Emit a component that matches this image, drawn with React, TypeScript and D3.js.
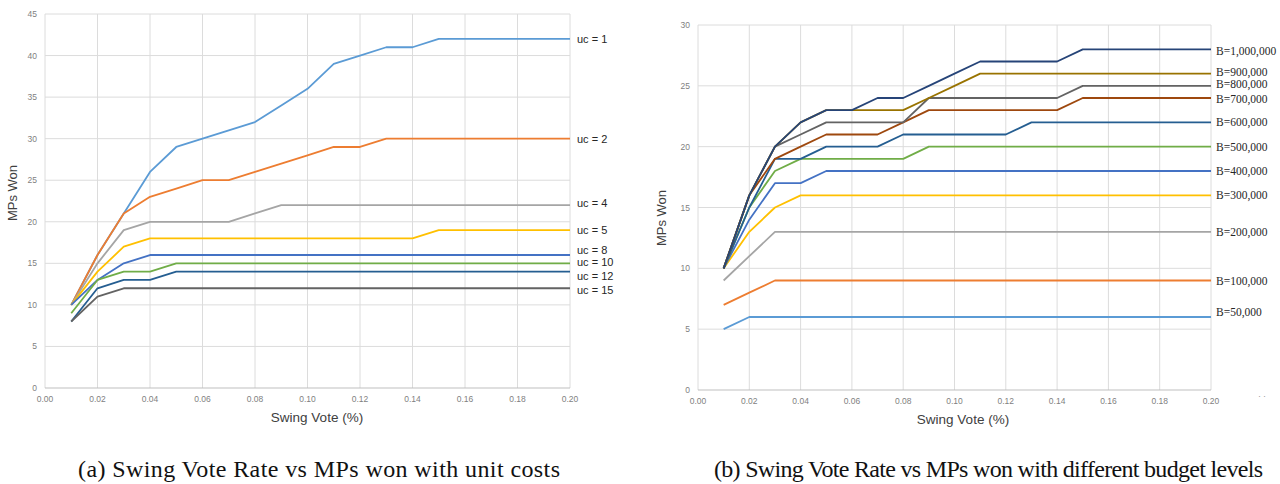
import React, { useRef, useEffect } from "react";
import * as d3 from "d3";

// swing vote rate on the x axis (shared by both panels)
const swingVotes = [0.01, 0.02, 0.03, 0.04, 0.05, 0.06, 0.07, 0.08, 0.09, 0.10,
  0.11, 0.12, 0.13, 0.14, 0.15, 0.16, 0.17, 0.18, 0.19, 0.20];
const xTicks = [0, 0.02, 0.04, 0.06, 0.08, 0.10, 0.12, 0.14, 0.16, 0.18, 0.20];

// (a) unit costs
const ucLabels = ["uc = 1", "uc = 2", "uc = 4", "uc = 5", "uc = 8", "uc = 10", "uc = 12", "uc = 15"];
const ucColors = ["#5B9BD5", "#ED7D31", "#A5A5A5", "#FFC000", "#4472C4", "#70AD47", "#255E91", "#636363"];
const uc1 = [10, 16, 21, 26, 29, 30, 31, 32, 34, 36, 39, 40, 41, 41, 42, 42, 42, 42, 42, 42];
const uc2 = [10, 16, 21, 23, 24, 25, 25, 26, 27, 28, 29, 29, 30, 30, 30, 30, 30, 30, 30, 30];
const uc4 = [10, 15, 19, 20, 20, 20, 20, 21, 22, 22, 22, 22, 22, 22, 22, 22, 22, 22, 22, 22];
const uc5 = [10, 14, 17, 18, 18, 18, 18, 18, 18, 18, 18, 18, 18, 18, 19, 19, 19, 19, 19, 19];
const uc8 = [10, 13, 15, 16, 16, 16, 16, 16, 16, 16, 16, 16, 16, 16, 16, 16, 16, 16, 16, 16];
const uc10 = [9, 13, 14, 14, 15, 15, 15, 15, 15, 15, 15, 15, 15, 15, 15, 15, 15, 15, 15, 15];
const uc12 = [8, 12, 13, 13, 14, 14, 14, 14, 14, 14, 14, 14, 14, 14, 14, 14, 14, 14, 14, 14];
const uc15 = [8, 11, 12, 12, 12, 12, 12, 12, 12, 12, 12, 12, 12, 12, 12, 12, 12, 12, 12, 12];
const ucSeries = [uc1, uc2, uc4, uc5, uc8, uc10, uc12, uc15];
const ucLabelNudge = [0, 0, -2, 0, -5, -1, 4, 2];
const ucYTicks = [0, 5, 10, 15, 20, 25, 30, 35, 40, 45];

// (b) budget levels
const budgetLabels = ["B=50,000", "B=100,000", "B=200,000", "B=300,000", "B=400,000", "B=500,000",
  "B=600,000", "B=700,000", "B=800,000", "B=900,000", "B=1,000,000"];
const budgetColors = ["#5B9BD5", "#ED7D31", "#A5A5A5", "#FFC000", "#4472C4", "#70AD47",
  "#255E91", "#9E480E", "#636363", "#997300", "#264478"];
const b50k = [5, 6, 6, 6, 6, 6, 6, 6, 6, 6, 6, 6, 6, 6, 6, 6, 6, 6, 6, 6];
const b100k = [7, 8, 9, 9, 9, 9, 9, 9, 9, 9, 9, 9, 9, 9, 9, 9, 9, 9, 9, 9];
const b200k = [9, 11, 13, 13, 13, 13, 13, 13, 13, 13, 13, 13, 13, 13, 13, 13, 13, 13, 13, 13];
const b300k = [10, 13, 15, 16, 16, 16, 16, 16, 16, 16, 16, 16, 16, 16, 16, 16, 16, 16, 16, 16];
const b400k = [10, 14, 17, 17, 18, 18, 18, 18, 18, 18, 18, 18, 18, 18, 18, 18, 18, 18, 18, 18];
const b500k = [10, 15, 18, 19, 19, 19, 19, 19, 20, 20, 20, 20, 20, 20, 20, 20, 20, 20, 20, 20];
const b600k = [10, 15, 19, 19, 20, 20, 20, 21, 21, 21, 21, 21, 22, 22, 22, 22, 22, 22, 22, 22];
const b700k = [10, 16, 19, 20, 21, 21, 21, 22, 23, 23, 23, 23, 23, 23, 24, 24, 24, 24, 24, 24];
const b800k = [10, 16, 20, 21, 22, 22, 22, 22, 24, 24, 24, 24, 24, 24, 25, 25, 25, 25, 25, 25];
const b900k = [10, 16, 20, 22, 23, 23, 23, 23, 24, 25, 26, 26, 26, 26, 26, 26, 26, 26, 26, 26];
const b1m = [10, 16, 20, 22, 23, 23, 24, 24, 25, 26, 27, 27, 27, 27, 28, 28, 28, 28, 28, 28];
const budgetSeries = [b50k, b100k, b200k, b300k, b400k, b500k, b600k, b700k, b800k, b900k, b1m];
const budgetLabelNudge = [-5, 0, 0, 0, 0, 0, 0, 1, -2, -2, 2];
const budgetYTicks = [0, 5, 10, 15, 20, 25, 30];

const sans = "'Liberation Sans', Arial, sans-serif";
const serif = "'Liberation Serif', 'Times New Roman', serif";

function drawPanel(svg: any, opts: any) {
  const xScale = d3.scaleLinear().domain([0, 0.2]).range([opts.left, opts.right]);
  const yScale = d3.scaleLinear().domain([0, opts.yMax]).range([opts.bottom, opts.top]);
  const g = svg.append("g");

  // grid
  g.selectAll(".vgrid").data(xTicks).join("line")
    .attr("x1", (d: number) => xScale(d)).attr("x2", (d: number) => xScale(d))
    .attr("y1", opts.top).attr("y2", opts.bottom)
    .attr("stroke", "#dcdcdc").attr("stroke-width", 1);
  g.selectAll(".hgrid").data(opts.yTicks).join("line")
    .attr("x1", opts.left).attr("x2", opts.right)
    .attr("y1", (d: number) => yScale(d)).attr("y2", (d: number) => yScale(d))
    .attr("stroke", (d: number) => d === 0 ? "#bfbfbf" : "#dcdcdc").attr("stroke-width", 1);

  // tick labels
  g.selectAll(".xt").data(xTicks).join("text")
    .attr("x", (d: number) => xScale(d)).attr("y", opts.bottom + 14)
    .attr("text-anchor", "middle").attr("font-family", sans).attr("font-size", 8.5)
    .attr("fill", "#7f7f7f").text((d: number) => d3.format(".2f")(d));
  g.selectAll(".yt").data(opts.yTicks).join("text")
    .attr("x", opts.left - 8).attr("y", (d: number) => yScale(d) + 3)
    .attr("text-anchor", "end").attr("font-family", sans).attr("font-size", 8.5)
    .attr("fill", "#7f7f7f").text((d: number) => d);

  // axis titles
  g.append("text").attr("x", opts.xTitleX).attr("y", opts.bottom + 34)
    .attr("text-anchor", "middle").attr("font-family", sans).attr("font-size", 13.5)
    .attr("fill", "#404040").text("Swing Vote (%)");
  g.append("text")
    .attr("transform", `translate(${opts.yTitleX},${opts.yTitleY}) rotate(-90)`)
    .attr("text-anchor", "middle").attr("font-family", sans).attr("font-size", 13)
    .attr("fill", "#404040").text("MPs Won");

  // series
  const line = d3.line<number>().x((_d, i) => xScale(swingVotes[i])).y((d) => yScale(d));
  opts.series.forEach((s: number[], i: number) => {
    g.append("path").attr("d", line(s)).attr("fill", "none")
      .attr("stroke", opts.colors[i]).attr("stroke-width", 1.8).attr("stroke-linejoin", "round");
  });

  // end labels
  opts.series.forEach((s: number[], i: number) => {
    g.append("text").attr("x", opts.right + opts.labelGap)
      .attr("y", yScale(s[s.length - 1]) + opts.nudge[i] + 4)
      .attr("font-family", opts.labelFont).attr("font-size", opts.labelSize)
      .attr("fill", "#262626").text(opts.labels[i]);
  });

  // caption
  svg.append("text").attr("x", opts.captionX).attr("y", 477)
    .attr("font-family", serif).attr("font-size", 24).attr("fill", "#111")
    .attr("textLength", opts.captionW).attr("lengthAdjust", "spacing")
    .text(opts.caption);
}

export default function App() {
  const svgRef = useRef<SVGSVGElement>(null);
  useEffect(() => {
    if (!svgRef.current) return;
    const svg = d3.select(svgRef.current);
    svg.selectAll("*").remove();
    svg.append("rect").attr("width", 1280).attr("height", 484).attr("fill", "#fff");

    drawPanel(svg, {
      left: 45, right: 570, top: 14, bottom: 388, yMax: 45, yTicks: ucYTicks,
      series: ucSeries, colors: ucColors, labels: ucLabels, nudge: ucLabelNudge,
      labelGap: 7, labelFont: sans, labelSize: 11, xTitleX: 317, yTitleX: 17, yTitleY: 193,
      caption: "(a) Swing Vote Rate vs MPs won with unit costs", captionX: 78, captionW: 482,
    });
    drawPanel(svg, {
      left: 698, right: 1211, top: 25, bottom: 390, yMax: 30, yTicks: budgetYTicks,
      series: budgetSeries, colors: budgetColors, labels: budgetLabels, nudge: budgetLabelNudge,
      labelGap: 5, labelFont: serif, labelSize: 11.5, xTitleX: 963, yTitleX: 666, yTitleY: 218,
      caption: "(b) Swing Vote Rate vs MPs won with different budget levels", captionX: 714, captionW: 549,
    });

    svg.append("text").attr("x", 1262).attr("y", 397).attr("text-anchor", "middle")
      .attr("font-family", sans).attr("font-size", 9).attr("fill", "#999").text(". .");
  }, []);

  return (
    <div style={{ position: "absolute", left: 0, top: 0 }}>
      <svg ref={svgRef} width={1280} height={484} style={{ display: "block" }} />
    </div>
  );
}
